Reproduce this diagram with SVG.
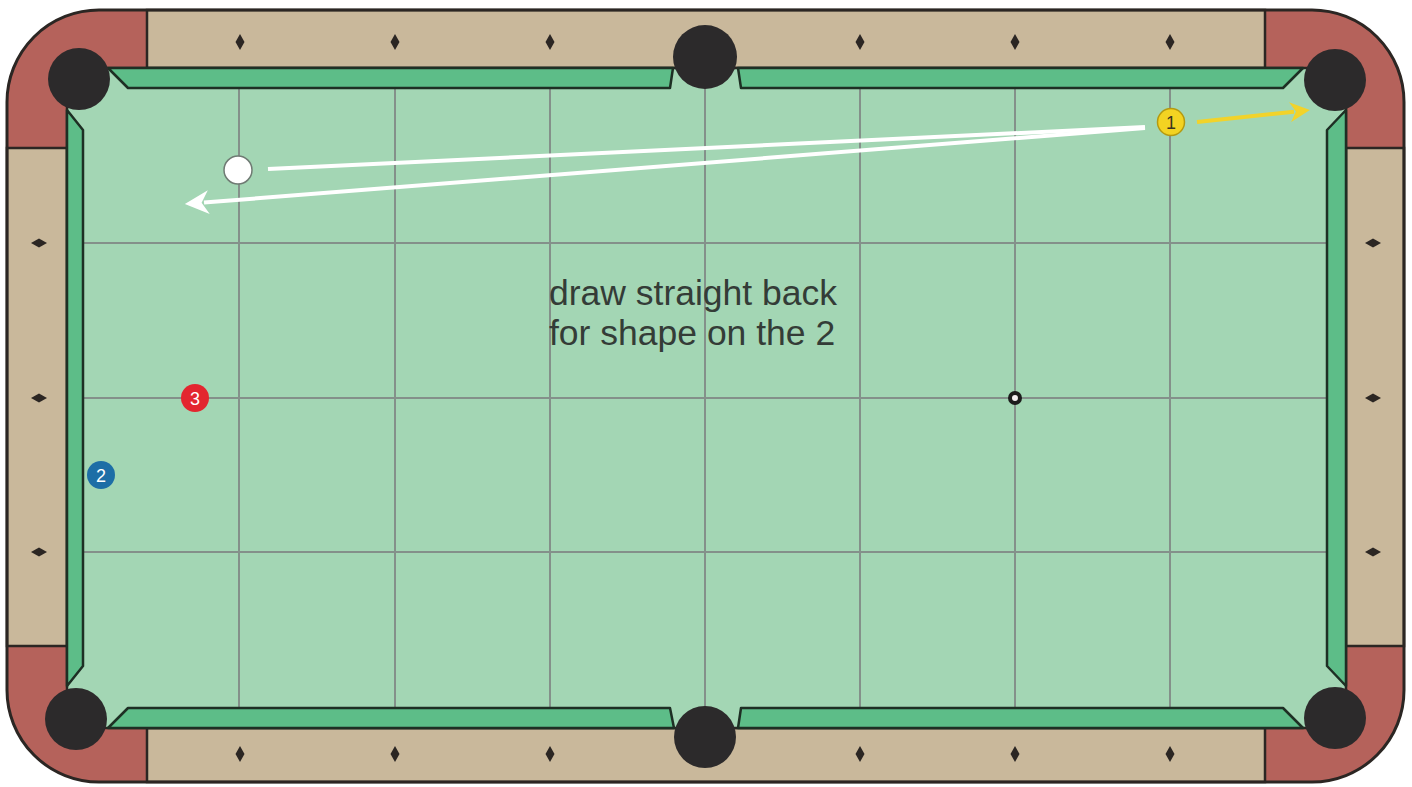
<svg xmlns="http://www.w3.org/2000/svg" width="1412" height="787" viewBox="0 0 1412 787">
<style>
.rail{fill:#c9b89b;stroke:#2b2623;stroke-width:2.5}
.cush{fill:#5dbd88;stroke:#1e2f24;stroke-width:2.5;stroke-linejoin:round}
.grid{stroke:#84908a;stroke-width:2}
.pocket{fill:#2c2a2b}
.dia{fill:#2b2623}
.num{font-family:"Liberation Sans",Arial,sans-serif;font-size:18px;text-anchor:middle}
.label{font-family:"Liberation Sans",Arial,sans-serif;font-size:35.5px;fill:#343c37}
</style>
<defs>
<marker id="wh" viewBox="0 0 10 10" refX="2" refY="5" markerWidth="6" markerHeight="6" orient="auto" markerUnits="strokeWidth">
<path d="M0,0 L10,5 L0,10 L3,5 Z" fill="#ffffff"/>
</marker>
<marker id="yh" viewBox="0 0 10 10" refX="2" refY="5" markerWidth="5" markerHeight="5" orient="auto" markerUnits="strokeWidth">
<path d="M0,0 L10,5 L0,10 L3,5 Z" fill="#f2d32a"/>
</marker>
</defs>
<rect width="1412" height="787" fill="#ffffff"/>
<g id="table">
<rect x="7" y="10" width="1397" height="772" rx="92" ry="92" fill="#b5625b"/>
<rect class="rail" x="147" y="10" width="1118" height="58"/>
<rect class="rail" x="147" y="728" width="1118" height="54"/>
<rect class="rail" x="7" y="148" width="60" height="498"/>
<rect class="rail" x="1346" y="148" width="58" height="498"/>
<rect x="67" y="68" width="1279" height="660" fill="#a3d6b4" stroke="#2b2623" stroke-width="2.5"/>
<rect x="7" y="10" width="1397" height="772" rx="92" ry="92" fill="none" stroke="#2b2623" stroke-width="3"/>
</g>
<g id="diamonds">
<path class="dia" d="M240,34 L244.5,42 L240,50 L235.5,42 Z"/>
<path class="dia" d="M395,34 L399.5,42 L395,50 L390.5,42 Z"/>
<path class="dia" d="M550,34 L554.5,42 L550,50 L545.5,42 Z"/>
<path class="dia" d="M860,34 L864.5,42 L860,50 L855.5,42 Z"/>
<path class="dia" d="M1015,34 L1019.5,42 L1015,50 L1010.5,42 Z"/>
<path class="dia" d="M1170,34 L1174.5,42 L1170,50 L1165.5,42 Z"/>
<path class="dia" d="M240,746 L244.5,754 L240,762 L235.5,754 Z"/>
<path class="dia" d="M395,746 L399.5,754 L395,762 L390.5,754 Z"/>
<path class="dia" d="M550,746 L554.5,754 L550,762 L545.5,754 Z"/>
<path class="dia" d="M860,746 L864.5,754 L860,762 L855.5,754 Z"/>
<path class="dia" d="M1015,746 L1019.5,754 L1015,762 L1010.5,754 Z"/>
<path class="dia" d="M1170,746 L1174.5,754 L1170,762 L1165.5,754 Z"/>
<path class="dia" d="M31,243 L39,238.5 L47,243 L39,247.5 Z"/>
<path class="dia" d="M31,398 L39,393.5 L47,398 L39,402.5 Z"/>
<path class="dia" d="M31,552 L39,547.5 L47,552 L39,556.5 Z"/>
<path class="dia" d="M1365,243 L1373,238.5 L1381,243 L1373,247.5 Z"/>
<path class="dia" d="M1365,398 L1373,393.5 L1381,398 L1373,402.5 Z"/>
<path class="dia" d="M1365,552 L1373,547.5 L1381,552 L1373,556.5 Z"/>
</g>
<g id="grid">
<line class="grid" x1="239" y1="88" x2="239" y2="708"/>
<line class="grid" x1="395" y1="88" x2="395" y2="708"/>
<line class="grid" x1="550" y1="88" x2="550" y2="708"/>
<line class="grid" x1="705" y1="88" x2="705" y2="708"/>
<line class="grid" x1="860" y1="88" x2="860" y2="708"/>
<line class="grid" x1="1015" y1="88" x2="1015" y2="708"/>
<line class="grid" x1="1170" y1="88" x2="1170" y2="708"/>
<line class="grid" x1="83" y1="243" x2="1327" y2="243"/>
<line class="grid" x1="83" y1="398" x2="1327" y2="398"/>
<line class="grid" x1="83" y1="552" x2="1327" y2="552"/>
</g>
<g id="cushions">
<polygon class="cush" points="108,68 673,68 670,88 128,88"/>
<polygon class="cush" points="738,68 1303,68 1283,88 741,88"/>
<polygon class="cush" points="128,708 670,708 674,728 108,728"/>
<polygon class="cush" points="741,708 1283,708 1303,728 738,728"/>
<polygon class="cush" points="67,110 83,130 83,666 67,686"/>
<polygon class="cush" points="1346,110 1327,130 1327,666 1346,686"/>
</g>
<g id="pockets">
<circle class="pocket" cx="79" cy="79" r="31"/>
<circle class="pocket" cx="1335" cy="80" r="31"/>
<circle class="pocket" cx="76" cy="719" r="31"/>
<circle class="pocket" cx="1335" cy="718" r="31"/>
<circle class="pocket" cx="705" cy="57" r="32"/>
<circle class="pocket" cx="705" cy="737" r="31"/>
</g>
<g id="connectors">
<line x1="268" y1="169" x2="1145" y2="127" stroke="#ffffff" stroke-width="4"/>
<line x1="1145" y1="128" x2="204" y2="202.5" stroke="#ffffff" stroke-width="4" marker-end="url(#wh)"/>
<line x1="1197" y1="122" x2="1294" y2="111.7" stroke="#f2d32a" stroke-width="4" marker-end="url(#yh)"/>
</g>
<g id="spot">
<circle cx="1015" cy="398" r="7" fill="#1c1c1c"/>
<circle cx="1015" cy="398" r="3" fill="#f4eef0"/>
</g>
<g id="cue-ball">
<circle cx="238" cy="170" r="14" fill="#ffffff" stroke="#6f7a73" stroke-width="1.5"/>
</g>
<g id="ball-1">
<circle cx="1171" cy="122" r="13.5" fill="#f3d322" stroke="#b59a10" stroke-width="1.5"/>
<text class="num" x="1171" y="128.5" fill="#3a3320">1</text>
</g>
<g id="ball-3">
<circle cx="195" cy="398" r="14" fill="#e3262f"/>
<text class="num" x="195" y="404.5" fill="#ffffff">3</text>
</g>
<g id="ball-2">
<circle cx="101" cy="475" r="14" fill="#1d6ea6"/>
<text class="num" x="101" y="481.5" fill="#ffffff">2</text>
</g>
<g id="label">
<text class="label" x="549" y="305">draw straight back</text>
<text class="label" x="549" y="345">for shape on the 2</text>
</g>
</svg>
